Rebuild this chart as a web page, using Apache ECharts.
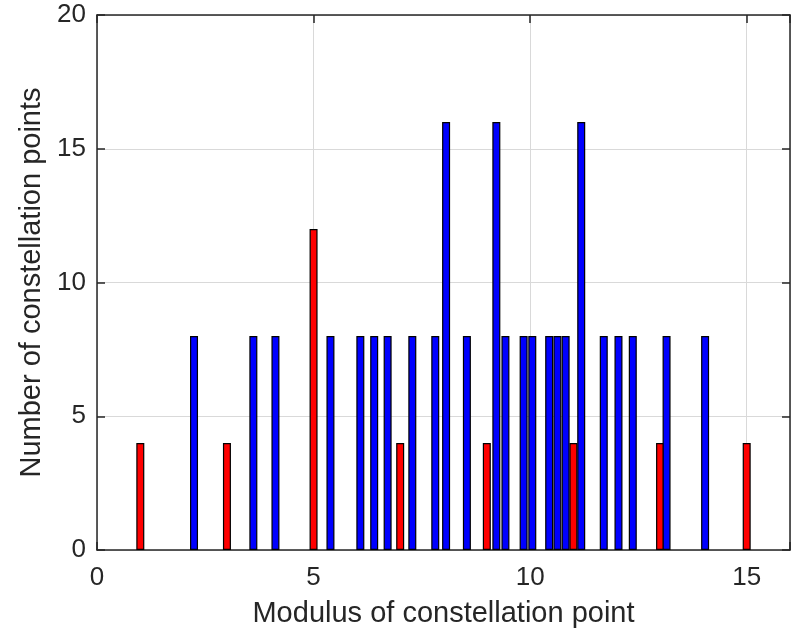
<!DOCTYPE html>
<html>
<head>
<meta charset="utf-8">
<script src="https://cdn.jsdelivr.net/npm/echarts@6/dist/echarts.min.js"></script>
<style>
  html, body { margin: 0; padding: 0; background: #fff; }
  #main { width: 794px; height: 633px; }
</style>
</head>
<body>
<div id="main"></div>
<script>
// red bars: points on the axes (integer moduli)
var redX = [1, 3, 5, 7, 9, 11, 13, 15];
var redY = [4, 4, 12, 4, 4, 4, 4, 4];

// blue bars: off-axis points
var blueX = [2.24, 3.61, 4.12, 5.39, 6.08, 6.40, 6.71, 7.28, 7.81, 8.06, 8.54, 9.22,
             9.43, 9.85, 10.05, 10.44, 10.63, 10.82, 11.18, 11.70, 12.04, 12.37, 13.15, 14.04];
var blueY = [8, 8, 8, 8, 8, 8, 8, 8, 8, 16, 8, 16,
             8, 8, 8, 8, 8, 8, 16, 8, 8, 8, 8, 8];

var xTicks = [0, 5, 10, 15];
var yTicks = [0, 5, 10, 15, 20];

function pairs(xs, ys) {
  return xs.map(function (x, i) { return [x, ys[i]]; });
}

var font = 'Liberation Sans, Arial, Helvetica, sans-serif';
var ink = '#262626';

var myChart = echarts.init(document.getElementById('main'));
var option = {
  backgroundColor: '#fff',
  animation: false,
  grid: { left: 97, right: 4, top: 15, bottom: 78 },
  xAxis: [{
    type: 'value', min: 0, max: 16, interval: 5,
    name: 'Modulus of constellation point',
    nameLocation: 'middle', nameGap: 49,
    nameTextStyle: { fontFamily: font, fontSize: 29, color: ink },
    axisLine: { show: true, lineStyle: { color: ink, width: 1.5 } },
    axisTick: { show: true, inside: true, length: 8, lineStyle: { color: ink, width: 1.5 } },
    axisLabel: {
      fontFamily: font, fontSize: 26, color: ink, margin: 15,
      formatter: function (v) { return xTicks.indexOf(v) >= 0 ? String(v) : ''; }
    },
    splitLine: { show: true, lineStyle: { color: '#d9d9d9', width: 1 } }
  }, {
    type: 'value', position: 'top', min: 0, max: 16, interval: 5,
    axisLine: { show: true, onZero: false, lineStyle: { color: ink, width: 1.5 } },
    axisTick: { show: true, inside: true, length: 8, lineStyle: { color: ink, width: 1.5 } },
    axisLabel: { show: false },
    splitLine: { show: false }
  }],
  yAxis: [{
    type: 'value', min: 0, max: 20, interval: 5,
    name: 'Number of constellation points',
    nameLocation: 'middle', nameGap: 50,
    nameTextStyle: { fontFamily: font, fontSize: 29, color: ink },
    axisLine: { show: true, lineStyle: { color: ink, width: 1.5 } },
    axisTick: { show: true, inside: true, length: 8, lineStyle: { color: ink, width: 1.5 } },
    axisLabel: {
      fontFamily: font, fontSize: 26, color: ink, margin: 11,
      formatter: function (v) { return yTicks.indexOf(v) >= 0 ? String(v) : ''; }
    },
    splitLine: { show: true, lineStyle: { color: '#d9d9d9', width: 1 } }
  }, {
    type: 'value', position: 'right', min: 0, max: 20, interval: 5,
    axisLine: { show: true, onZero: false, lineStyle: { color: ink, width: 1.5 } },
    axisTick: { show: true, inside: true, length: 8, lineStyle: { color: ink, width: 1.5 } },
    axisLabel: { show: false },
    splitLine: { show: false }
  }],
  series: [{
    type: 'bar',
    data: pairs(redX, redY),
    barWidth: 8, barGap: '-100%',
    itemStyle: { color: '#ff0000', borderColor: '#000', borderWidth: 1.2 }
  }, {
    type: 'bar',
    data: pairs(blueX, blueY),
    barWidth: 8, barGap: '-100%',
    itemStyle: { color: '#0000ff', borderColor: '#000', borderWidth: 1.2 }
  }]
};
myChart.setOption(option);
</script>
</body>
</html>
